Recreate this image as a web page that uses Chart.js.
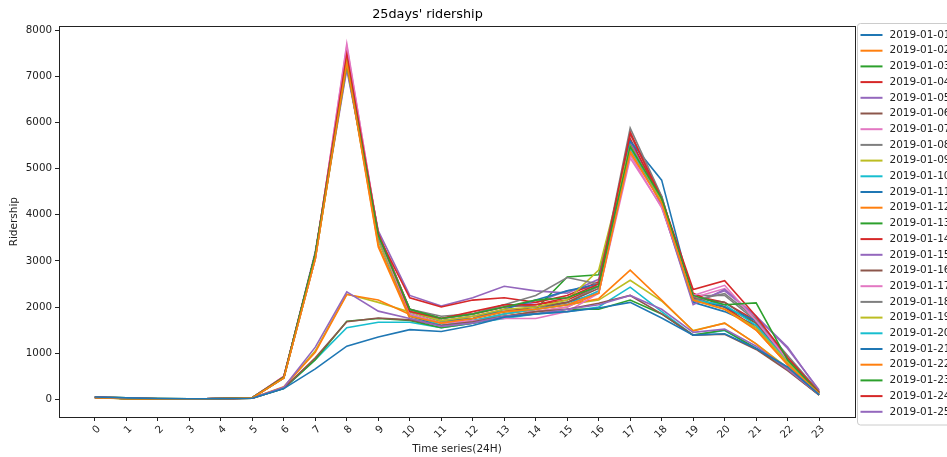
<!DOCTYPE html>
<html>
<head>
<meta charset="utf-8">
<script src="https://cdn.jsdelivr.net/npm/chart.js@4.4.1/dist/chart.umd.min.js"></script>
<style>
  html, body { margin: 0; padding: 0; background: #fff; }
  #wrap { width: 947px; height: 457px; overflow: hidden; }
</style>
</head>
<body>
<div id="wrap"><canvas id="chart" width="947" height="457"></canvas></div>
<script>
// hours of the day (x axis)
const hours = [0, 1, 2, 3, 4, 5, 6, 7, 8, 9, 10, 11, 12, 13, 14, 15, 16, 17, 18, 19, 20, 21, 22, 23];
const yTicks = [0, 1000, 2000, 3000, 4000, 5000, 6000, 7000, 8000];

const days = [
  '2019-01-01', '2019-01-02', '2019-01-03', '2019-01-04', '2019-01-05',
  '2019-01-06', '2019-01-07', '2019-01-08', '2019-01-09', '2019-01-10',
  '2019-01-11', '2019-01-12', '2019-01-13', '2019-01-14', '2019-01-15',
  '2019-01-16', '2019-01-17', '2019-01-18', '2019-01-19', '2019-01-20',
  '2019-01-21', '2019-01-22', '2019-01-23', '2019-01-24', '2019-01-25'
];

// ridership per hour, one array per day
const d01 = [50, 30, 15, 10, 10, 20, 230, 660, 1150, 1350, 1510, 1470, 1600, 1780, 1850, 1900, 1980, 2100, 1760, 1390, 1420, 1100, 700, 100];
const d02 = [35, 12, 6, 5, 12, 30, 460, 3050, 7300, 3350, 1800, 1650, 1750, 1900, 1950, 2050, 2300, 5350, 4250, 2150, 1950, 1500, 750, 120];
const d03 = [38, 14, 7, 6, 14, 32, 480, 3150, 7290, 3550, 1950, 1750, 1850, 2000, 2150, 2200, 2450, 5480, 4350, 2250, 2050, 2090, 850, 130];
const d04 = [40, 15, 8, 6, 14, 30, 490, 3150, 7470, 3600, 1900, 1750, 1900, 2050, 2050, 2200, 2500, 5770, 4350, 2380, 2570, 1800, 900, 150];
const d05 = [45, 25, 12, 8, 10, 25, 260, 1130, 2330, 1910, 1750, 1580, 1650, 1800, 1850, 1950, 2050, 2250, 1950, 1450, 1520, 1150, 650, 100];
const d06 = [50, 30, 15, 10, 10, 22, 240, 900, 1680, 1760, 1720, 1600, 1680, 1800, 1900, 1950, 2080, 2250, 1850, 1390, 1410, 1080, 620, 90];
const d07 = [40, 15, 8, 6, 14, 35, 500, 3050, 7710, 3550, 1850, 1650, 1700, 1750, 1750, 1900, 2300, 5230, 4170, 2250, 2470, 1700, 850, 140];
const d08 = [40, 15, 8, 6, 14, 32, 470, 3100, 7350, 3500, 1950, 1800, 1850, 2050, 2250, 2640, 2500, 5880, 4400, 2150, 2290, 1750, 950, 160];
const d09 = [38, 14, 7, 6, 13, 30, 460, 3050, 7250, 3450, 1900, 1700, 1800, 1950, 2000, 2150, 2800, 5500, 4300, 2150, 1950, 1550, 800, 130];
const d10 = [40, 15, 8, 6, 14, 32, 470, 3150, 7300, 3450, 1850, 1600, 1700, 1850, 1950, 2050, 2350, 5450, 4300, 2150, 2050, 1600, 820, 130];
const d11 = [40, 15, 8, 6, 14, 30, 470, 3150, 7250, 3500, 1900, 1700, 1750, 1950, 2150, 2350, 2500, 5600, 4750, 2150, 2000, 1700, 850, 140];
const d12 = [45, 25, 12, 8, 10, 25, 270, 1020, 2270, 2150, 1840, 1650, 1700, 1850, 1950, 2050, 2180, 2800, 2150, 1480, 1650, 1200, 650, 100];
const d13 = [50, 30, 15, 10, 10, 22, 240, 860, 1690, 1750, 1710, 1550, 1650, 1800, 1850, 1950, 1950, 2150, 1850, 1390, 1500, 1100, 650, 95];
const d14 = [40, 15, 8, 6, 14, 33, 480, 3100, 7400, 3550, 2200, 2000, 2150, 2200, 2100, 2250, 2550, 5650, 4300, 2300, 2000, 1550, 800, 130];
const d15 = [40, 15, 8, 6, 14, 35, 490, 3150, 7150, 3650, 2250, 2020, 2200, 2450, 2350, 2300, 2600, 5600, 4200, 2050, 2380, 1800, 1130, 180];
const d16 = [40, 15, 8, 6, 14, 32, 470, 3100, 7300, 3500, 1850, 1650, 1750, 1900, 2000, 2100, 2400, 5500, 4250, 2200, 2100, 1650, 850, 140];
const d17 = [40, 15, 8, 6, 14, 33, 480, 3100, 7650, 3600, 1900, 1700, 1800, 1950, 1900, 2000, 2350, 5300, 4150, 2200, 2400, 1750, 880, 150];
const d18 = [40, 15, 8, 6, 14, 32, 470, 3050, 7350, 3550, 1950, 1750, 1850, 2050, 2000, 2100, 2450, 5750, 4350, 2250, 2250, 1700, 900, 140];
const d19 = [45, 25, 12, 8, 10, 25, 260, 1050, 2280, 2100, 1890, 1700, 1750, 1900, 1950, 2050, 2150, 2580, 2130, 1490, 1650, 1200, 680, 100];
const d20 = [50, 30, 15, 10, 10, 22, 230, 860, 1550, 1670, 1670, 1550, 1650, 1750, 1850, 1900, 2000, 2430, 1900, 1390, 1490, 1100, 650, 95];
const d21 = [40, 15, 8, 6, 14, 30, 460, 3100, 7300, 3450, 1800, 1600, 1700, 1850, 1950, 2100, 2300, 5550, 4400, 2100, 1900, 1600, 800, 130];
const d22 = [40, 15, 8, 6, 14, 32, 460, 3050, 7300, 3300, 1750, 1600, 1700, 1800, 1900, 2000, 2300, 5400, 4250, 2150, 2000, 1500, 750, 120];
const d23 = [40, 15, 8, 6, 14, 32, 470, 3150, 7300, 3550, 1900, 1700, 1800, 1900, 1950, 2650, 2700, 5500, 4300, 2200, 2000, 1650, 850, 140];
const d24 = [40, 15, 8, 6, 14, 34, 490, 3150, 7500, 3600, 1950, 1750, 1850, 2000, 2050, 2150, 2450, 5800, 4300, 2250, 2100, 1700, 880, 150];
const d25 = [40, 15, 8, 6, 14, 35, 480, 3200, 7200, 3600, 1950, 1750, 1850, 2000, 2100, 2350, 2450, 5550, 4200, 2100, 2350, 1800, 1100, 200];

const series = [d01, d02, d03, d04, d05, d06, d07, d08, d09, d10, d11, d12, d13,
  d14, d15, d16, d17, d18, d19, d20, d21, d22, d23, d24, d25];

const palette = ['#1f77b4', '#ff7f0e', '#2ca02c', '#d62728', '#9467bd',
  '#8c564b', '#e377c2', '#7f7f7f', '#bcbd22', '#17becf'];

const FONT = 'DejaVu Sans';
const INK = '#222';

const datasets = series.map((vals, i) => ({
  label: days[i],
  data: hours.map((h, j) => ({ x: h, y: vals[j] })),
  borderColor: palette[i % palette.length],
  backgroundColor: palette[i % palette.length],
  borderWidth: 1.6,
  pointRadius: 0,
  tension: 0,
  fill: false
}));

// matplotlib-like frame plus a legend box to the right of the axes
const frameAndLegend = {
  id: 'frameAndLegend',
  afterDraw(chart) {
    const ctx = chart.ctx;
    const a = chart.chartArea;
    ctx.save();
    ctx.strokeStyle = INK;
    ctx.lineWidth = 1;
    ctx.strokeRect(Math.round(a.left) + 0.5, Math.round(a.top) + 0.5,
      Math.round(a.right - a.left), Math.round(a.bottom - a.top));

    const x0 = Math.round(a.right) + 2.5;
    const y0 = 23.5;
    const rowH = 15.7;
    const ds = chart.data.datasets;
    ctx.fillStyle = 'rgba(255,255,255,0.85)';
    ctx.strokeStyle = '#cccccc';
    ctx.beginPath();
    ctx.roundRect(x0, y0, 140, ds.length * rowH + 9, 3);
    ctx.fill();
    ctx.stroke();

    ctx.font = '10.5px "' + FONT + '"';
    ctx.textBaseline = 'middle';
    ctx.textAlign = 'left';
    ds.forEach((d, i) => {
      const y = y0 + 11.5 + i * rowH;
      ctx.strokeStyle = d.borderColor;
      ctx.lineWidth = 2;
      ctx.beginPath();
      ctx.moveTo(x0 + 3, y);
      ctx.lineTo(x0 + 25, y);
      ctx.stroke();
      ctx.fillStyle = INK;
      ctx.fillText(d.label, x0 + 32, y);
    });
    ctx.restore();
  }
};

new Chart(document.getElementById('chart'), {
  type: 'line',
  data: { datasets },
  plugins: [frameAndLegend],
  options: {
    responsive: false,
    animation: false,
    layout: { padding: { left: 0, right: 92, top: 0, bottom: 0 } },
    plugins: {
      legend: { display: false },
      tooltip: { enabled: false },
      title: {
        display: true,
        text: "25days' ridership",
        color: '#000',
        font: { family: FONT, size: 12.8, weight: 'normal' },
        padding: { top: 7, bottom: 4 }
      }
    },
    scales: {
      x: {
        type: 'linear',
        min: -1.14,
        max: 24.14,
        afterBuildTicks: s => { s.ticks = hours.map(h => ({ value: h })); },
        afterFit: s => { s.height = 40; },
        ticks: {
          autoSkip: false,
          minRotation: 45,
          maxRotation: 45,
          padding: 2,
          labelOffset: 4,
          color: INK,
          font: { family: FONT, size: 10.3 },
          callback: v => String(v)
        },
        grid: { display: true, drawOnChartArea: false, drawTicks: true, tickLength: 4, color: INK },
        border: { display: false },
        title: {
          display: true,
          text: 'Time series(24H)',
          color: INK,
          font: { family: FONT, size: 10.5 },
          padding: { top: 0, bottom: 1 }
        }
      },
      y: {
        min: -385,
        max: 8085,
        afterBuildTicks: s => { s.ticks = yTicks.map(v => ({ value: v })); },
        afterFit: s => { s.width = 59; },
        ticks: {
          padding: 3,
          color: INK,
          font: { family: FONT, size: 10.3 },
          callback: v => String(v)
        },
        grid: { display: true, drawOnChartArea: false, drawTicks: true, tickLength: 4, color: INK },
        border: { display: false },
        title: {
          display: true,
          text: 'Ridership',
          color: INK,
          font: { family: FONT, size: 10.5 },
          padding: { top: 8, bottom: 0 }
        }
      }
    }
  }
});
</script>
</body>
</html>
